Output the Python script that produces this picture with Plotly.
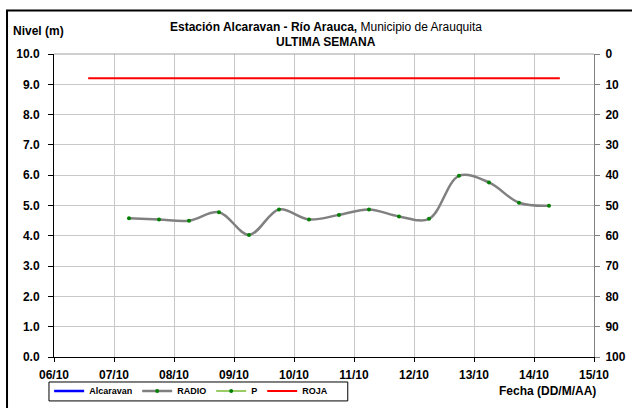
import plotly.graph_objects as go

# Lecturas de nivel (m) de la última semana
fechas_radio = [
    "2013-10-07 06:00", "2013-10-07 18:00", "2013-10-08 06:00", "2013-10-08 18:00",
    "2013-10-09 06:00", "2013-10-09 18:00", "2013-10-10 06:00", "2013-10-10 18:00",
    "2013-10-11 06:00", "2013-10-11 18:00", "2013-10-12 06:00", "2013-10-12 18:00",
    "2013-10-13 06:00", "2013-10-13 18:00", "2013-10-14 06:00",
]
nivel_radio = [4.58, 4.54, 4.50, 4.78, 4.03, 4.87, 4.54, 4.69,
               4.87, 4.64, 4.56, 5.98, 5.76, 5.09, 4.99]

# Umbral de alerta roja
fechas_roja = ["2013-10-06 13:40", "2013-10-14 10:20"]
nivel_roja = [9.2, 9.2]

tick_fechas = ["2013-10-%02d" % d for d in range(6, 16)]
tick_textos = ["%02d/10" % d for d in range(6, 16)]
nivel_ticks = [i for i in range(0, 11)]
prec_ticks = [i * 10 for i in range(0, 11)]

FONT = "Liberation Sans"
tick_font = dict(family=FONT, size=12, color="black", weight="bold")

fig = go.Figure()

fig.add_trace(go.Scatter(x=[None], y=[None], name="Alcaravan", mode="lines",
                         line=dict(color="#0000ff", width=2.5)))
fig.add_trace(go.Scatter(x=fechas_radio, y=nivel_radio, name="RADIO", mode="lines+markers",
                         line=dict(color="#808080", width=2.5, shape="spline", smoothing=1.0),
                         marker=dict(color="#008000", size=4)))
fig.add_trace(go.Scatter(x=[None], y=[None], name="P", mode="lines+markers",
                         line=dict(color="#99cc66", width=2),
                         marker=dict(color="#008000", size=4)))
fig.add_trace(go.Scatter(x=fechas_roja, y=nivel_roja, name="ROJA", mode="lines",
                         line=dict(color="#ff0000", width=2)))
# eje secundario (precipitación, invertido)
fig.add_trace(go.Scatter(x=[None], y=[None], yaxis="y2", showlegend=False))

fig.update_layout(
    width=632, height=408,
    margin=dict(l=54, r=38, t=54, b=51, autoexpand=False),
    paper_bgcolor="white", plot_bgcolor="white",
    font=dict(family=FONT, size=11, color="black"),
    showlegend=True,
    legend=dict(orientation="h", x=-0.009, y=-0.112, xanchor="left", yanchor="middle",
                borderwidth=0, bgcolor="rgba(0,0,0,0)",
                font=dict(family=FONT, size=9, color="black", weight="bold"),
                itemwidth=30, tracegroupgap=0),
    xaxis=dict(type="date", range=["2013-10-06", "2013-10-15"],
               tickvals=tick_fechas, ticktext=tick_textos,
               showgrid=True, gridcolor="#c8c8c8", gridwidth=1,
               showline=True, linecolor="black", linewidth=1,
               ticks="outside", ticklen=4, tickcolor="black",
               ticklabelstandoff=3,
               tickfont=tick_font, zeroline=False),
    yaxis=dict(range=[0, 10], tickvals=nivel_ticks, tickformat=".1f",
               showgrid=True, gridcolor="#c8c8c8", gridwidth=1,
               showline=True, linecolor="black", linewidth=1,
               ticks="outside", ticklen=5, tickcolor="black",
               ticklabelstandoff=6,
               tickfont=tick_font, zeroline=False),
    yaxis2=dict(overlaying="y", side="right", range=[100, 0], tickvals=prec_ticks,
                showgrid=False, showline=True, linecolor="#808080", linewidth=1,
                ticks="outside", ticklen=5, tickcolor="#808080",
                ticklabelstandoff=3,
                tickfont=tick_font, zeroline=False),
)

# línea superior del área de trazado
fig.add_shape(type="line", xref="paper", yref="paper", x0=0, x1=1, y0=1, y1=1,
              line=dict(color="#a0a0a0", width=1))

# marco de la leyenda
fig.add_shape(type="rect", xref="paper", yref="paper",
              x0=-0.0093, x1=0.544, y0=-0.0825, y1=-0.145,
              line=dict(color="black", width=1))

# marco exterior
fig.add_shape(type="rect", xref="paper", yref="paper",
              x0=-0.087, x1=1.3, y0=1.1435, y1=-0.4,
              line=dict(color="black", width=2))

fig.add_annotation(xref="paper", yref="paper", x=0.503, y=1.09, xanchor="center", yanchor="middle",
                   text="<b>Estación Alcaravan - Río Arauca,</b> Municipio de Arauquita",
                   showarrow=False, font=dict(family=FONT, size=12, color="black"))
fig.add_annotation(xref="paper", yref="paper", x=0.503, y=1.04, xanchor="center", yanchor="middle",
                   text="<b>ULTIMA SEMANA</b>",
                   showarrow=False, font=dict(family=FONT, size=12, color="black"))
fig.add_annotation(xref="paper", yref="paper", x=-0.08, y=1.075, xanchor="left", yanchor="middle",
                   text="<b>Nivel (m)</b>",
                   showarrow=False, font=dict(family=FONT, size=12, color="black"))
fig.add_annotation(xref="paper", yref="paper", x=1.008, y=-0.112, xanchor="right", yanchor="middle",
                   text="<b>Fecha (DD/M/AA)</b>",
                   showarrow=False, font=dict(family=FONT, size=12, color="black"))

fig.write_html("out.html")
